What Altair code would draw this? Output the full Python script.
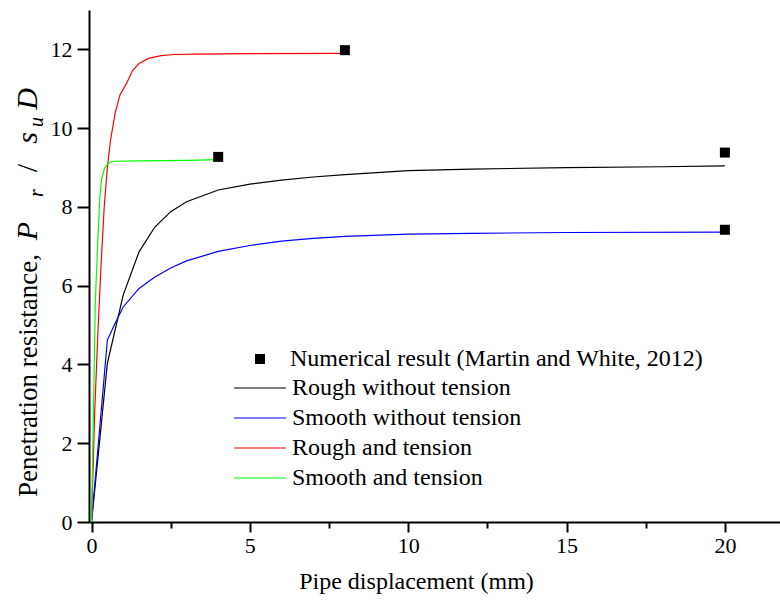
import altair as alt
import pandas as pd

POINT_SERIES = ["Numerical result (Martin and White, 2012)"]
LINE_SERIES = ["Rough without tension", "Smooth without tension",
               "Rough and tension", "Smooth and tension"]
LINE_COLORS = ["#000000", "#0000ff", "#ff0000", "#00ff00"]

# Numerical result (Martin and White, 2012)
num_x = [4, 8, 20, 20]
num_y = [9.27, 11.98, 9.38, 7.42]

# Rough without tension
rw_x = [0, 0.5, 0.75, 1.0, 1.5, 2.0, 2.5, 3.0, 4.0, 5.0, 6.0, 7.0, 8.0, 10.0, 12.0, 15.0, 18.0, 20.0]
rw_y = [0, 4.03, 4.9, 5.76, 6.86, 7.49, 7.88, 8.13, 8.43, 8.58, 8.68, 8.76, 8.82, 8.92, 8.96, 9.0, 9.02, 9.04]

# Smooth without tension
sw_x = [0, 0.5, 0.75, 1.0, 1.5, 2.0, 2.5, 3.0, 4.0, 5.0, 6.0, 7.0, 8.0, 10.0, 12.0, 15.0, 20.0]
sw_y = [0, 4.62, 5.05, 5.46, 5.93, 6.22, 6.45, 6.63, 6.87, 7.02, 7.13, 7.2, 7.25, 7.31, 7.33, 7.35, 7.36]

# Rough and tension
rt_x = [0, 0.1, 0.2, 0.3, 0.4, 0.5, 0.6, 0.75, 0.9, 1.1, 1.3, 1.5, 1.8, 2.2, 2.6, 3.3, 5.0, 8.0]
rt_y = [0, 2.8, 4.8, 6.5, 8.0, 9.0, 9.7, 10.4, 10.85, 11.13, 11.47, 11.64, 11.77, 11.84, 11.87, 11.88, 11.89, 11.9]

# Smooth and tension
st_x = [0, 0.12, 0.2, 0.26, 0.31, 0.41, 0.5, 0.57, 0.73, 1.5, 3.0, 4.0]
st_y = [0, 5.6, 7.2, 8.2, 8.68, 8.98, 9.08, 9.13, 9.16, 9.17, 9.18, 9.2]

X_TICKS = [0, 2.5, 5, 7.5, 10, 12.5, 15, 17.5, 20]
Y_TICKS = list(range(0, 14))

rows = []
for name, xs, ys in zip(LINE_SERIES, [rw_x, sw_x, rt_x, st_x], [rw_y, sw_y, rt_y, st_y]):
    for i, (a, b) in enumerate(zip(xs, ys)):
        rows.append({"series": name, "x": a, "y": b, "i": i})
lines_df = pd.DataFrame(rows)
pts_df = pd.DataFrame({"source": POINT_SERIES[0], "x": num_x, "y": num_y})

SERIF = "Liberation Serif, Times New Roman, serif"

xscale = alt.Scale(domain=[-0.08, 21.74], nice=False, zero=False)
yscale = alt.Scale(domain=[0, 13], nice=False, zero=False)

xaxis = alt.Axis(
    values=X_TICKS, title="Pipe displacement (mm)", grid=False,
    labelExpr="datum.value % 5 == 0 ? datum.label : ''",
    tickSize=alt.condition("datum.value % 5 == 0", alt.value(10), alt.value(6)),
    labelFont=SERIF, labelFontSize=22, labelColor="black", labelPadding=3,
    titleFont=SERIF, titleFontSize=24, titleFontWeight="normal", titleColor="black",
    titleX=327, titleY=66, titleBaseline="alphabetic",
    domainColor="black", domainWidth=2, tickColor="black", tickWidth=2,
    labelFlush=False, labelOverlap=False,
)
yaxis = alt.Axis(
    values=Y_TICKS, title=None, grid=False,
    labelExpr="datum.value % 2 == 0 ? datum.label : ''",
    tickSize=alt.condition("datum.value % 2 == 0", alt.value(12), alt.value(7)),
    labelFont=SERIF, labelFontSize=22, labelColor="black", labelPadding=5,
    domainColor="black", domainWidth=2, tickColor="black", tickWidth=2,
    labelFlush=False, labelOverlap=False,
)

leg_points = alt.Legend(
    title=None, orient="none", legendX=159, legendY=337, padding=0,
    symbolType="square", symbolSize=100, symbolStrokeWidth=0, symbolOpacity=1,
    labelFont=SERIF, labelFontSize=24, labelColor="black", labelLimit=0,
    labelOffset=18,
)
leg_lines = alt.Legend(
    title=None, orient="none", legendX=144, legendY=366, padding=0,
    symbolType="stroke", symbolSize=2704, symbolStrokeWidth=1.2, symbolOpacity=1,
    labelFont=SERIF, labelFontSize=24, labelColor="black", labelLimit=0,
    labelOffset=5, rowPadding=6, clipHeight=24,
)

lines = alt.Chart(lines_df).mark_line(strokeWidth=1.2).encode(
    x=alt.X("x:Q", scale=xscale, axis=xaxis),
    y=alt.Y("y:Q", scale=yscale, axis=yaxis),
    stroke=alt.Stroke("series:N", scale=alt.Scale(domain=LINE_SERIES, range=LINE_COLORS),
                      legend=leg_lines),
    order="i:Q",
)

points = alt.Chart(pts_df).mark_point(filled=True, opacity=1, shape="square", size=100).encode(
    x=alt.X("x:Q", scale=xscale),
    y=alt.Y("y:Q", scale=yscale),
    fill=alt.Fill("source:N", scale=alt.Scale(domain=POINT_SERIES, range=["#000000"]),
                  legend=leg_points),
)

one = alt.Data(values=[{"k": 0}])


def label(text, xv, yv, size, style="normal", align="center"):
    return alt.Chart(one).mark_text(
        text=text, angle=270, align=align, baseline="alphabetic",
        font=SERIF, fontSize=size, fontStyle=style, color="black",
    ).encode(x=alt.value(xv), y=alt.value(yv))


ytitle = [
    label("Penetration resistance,", -52, 487, 27, align="left"),
    label("P", -52, 221, 30, "italic"),
    label("r", -46, 183, 20, "italic"),
    label("/", -52, 158, 30),
    label("s", -52, 128, 30, "italic"),
    label("u", -46, 112, 20, "italic"),
    label("D", -52, 89, 30, "italic"),
]

chart = alt.layer(lines, points, *ytitle).properties(
    width=691, height=512,
    autosize=alt.AutoSizeParams(type="none"),
    padding={"left": 89, "top": 10, "right": 0, "bottom": 82},
    background="white",
).configure_view(stroke=None)

chart.save("out.html", embed_options={"renderer": "svg", "actions": False})
